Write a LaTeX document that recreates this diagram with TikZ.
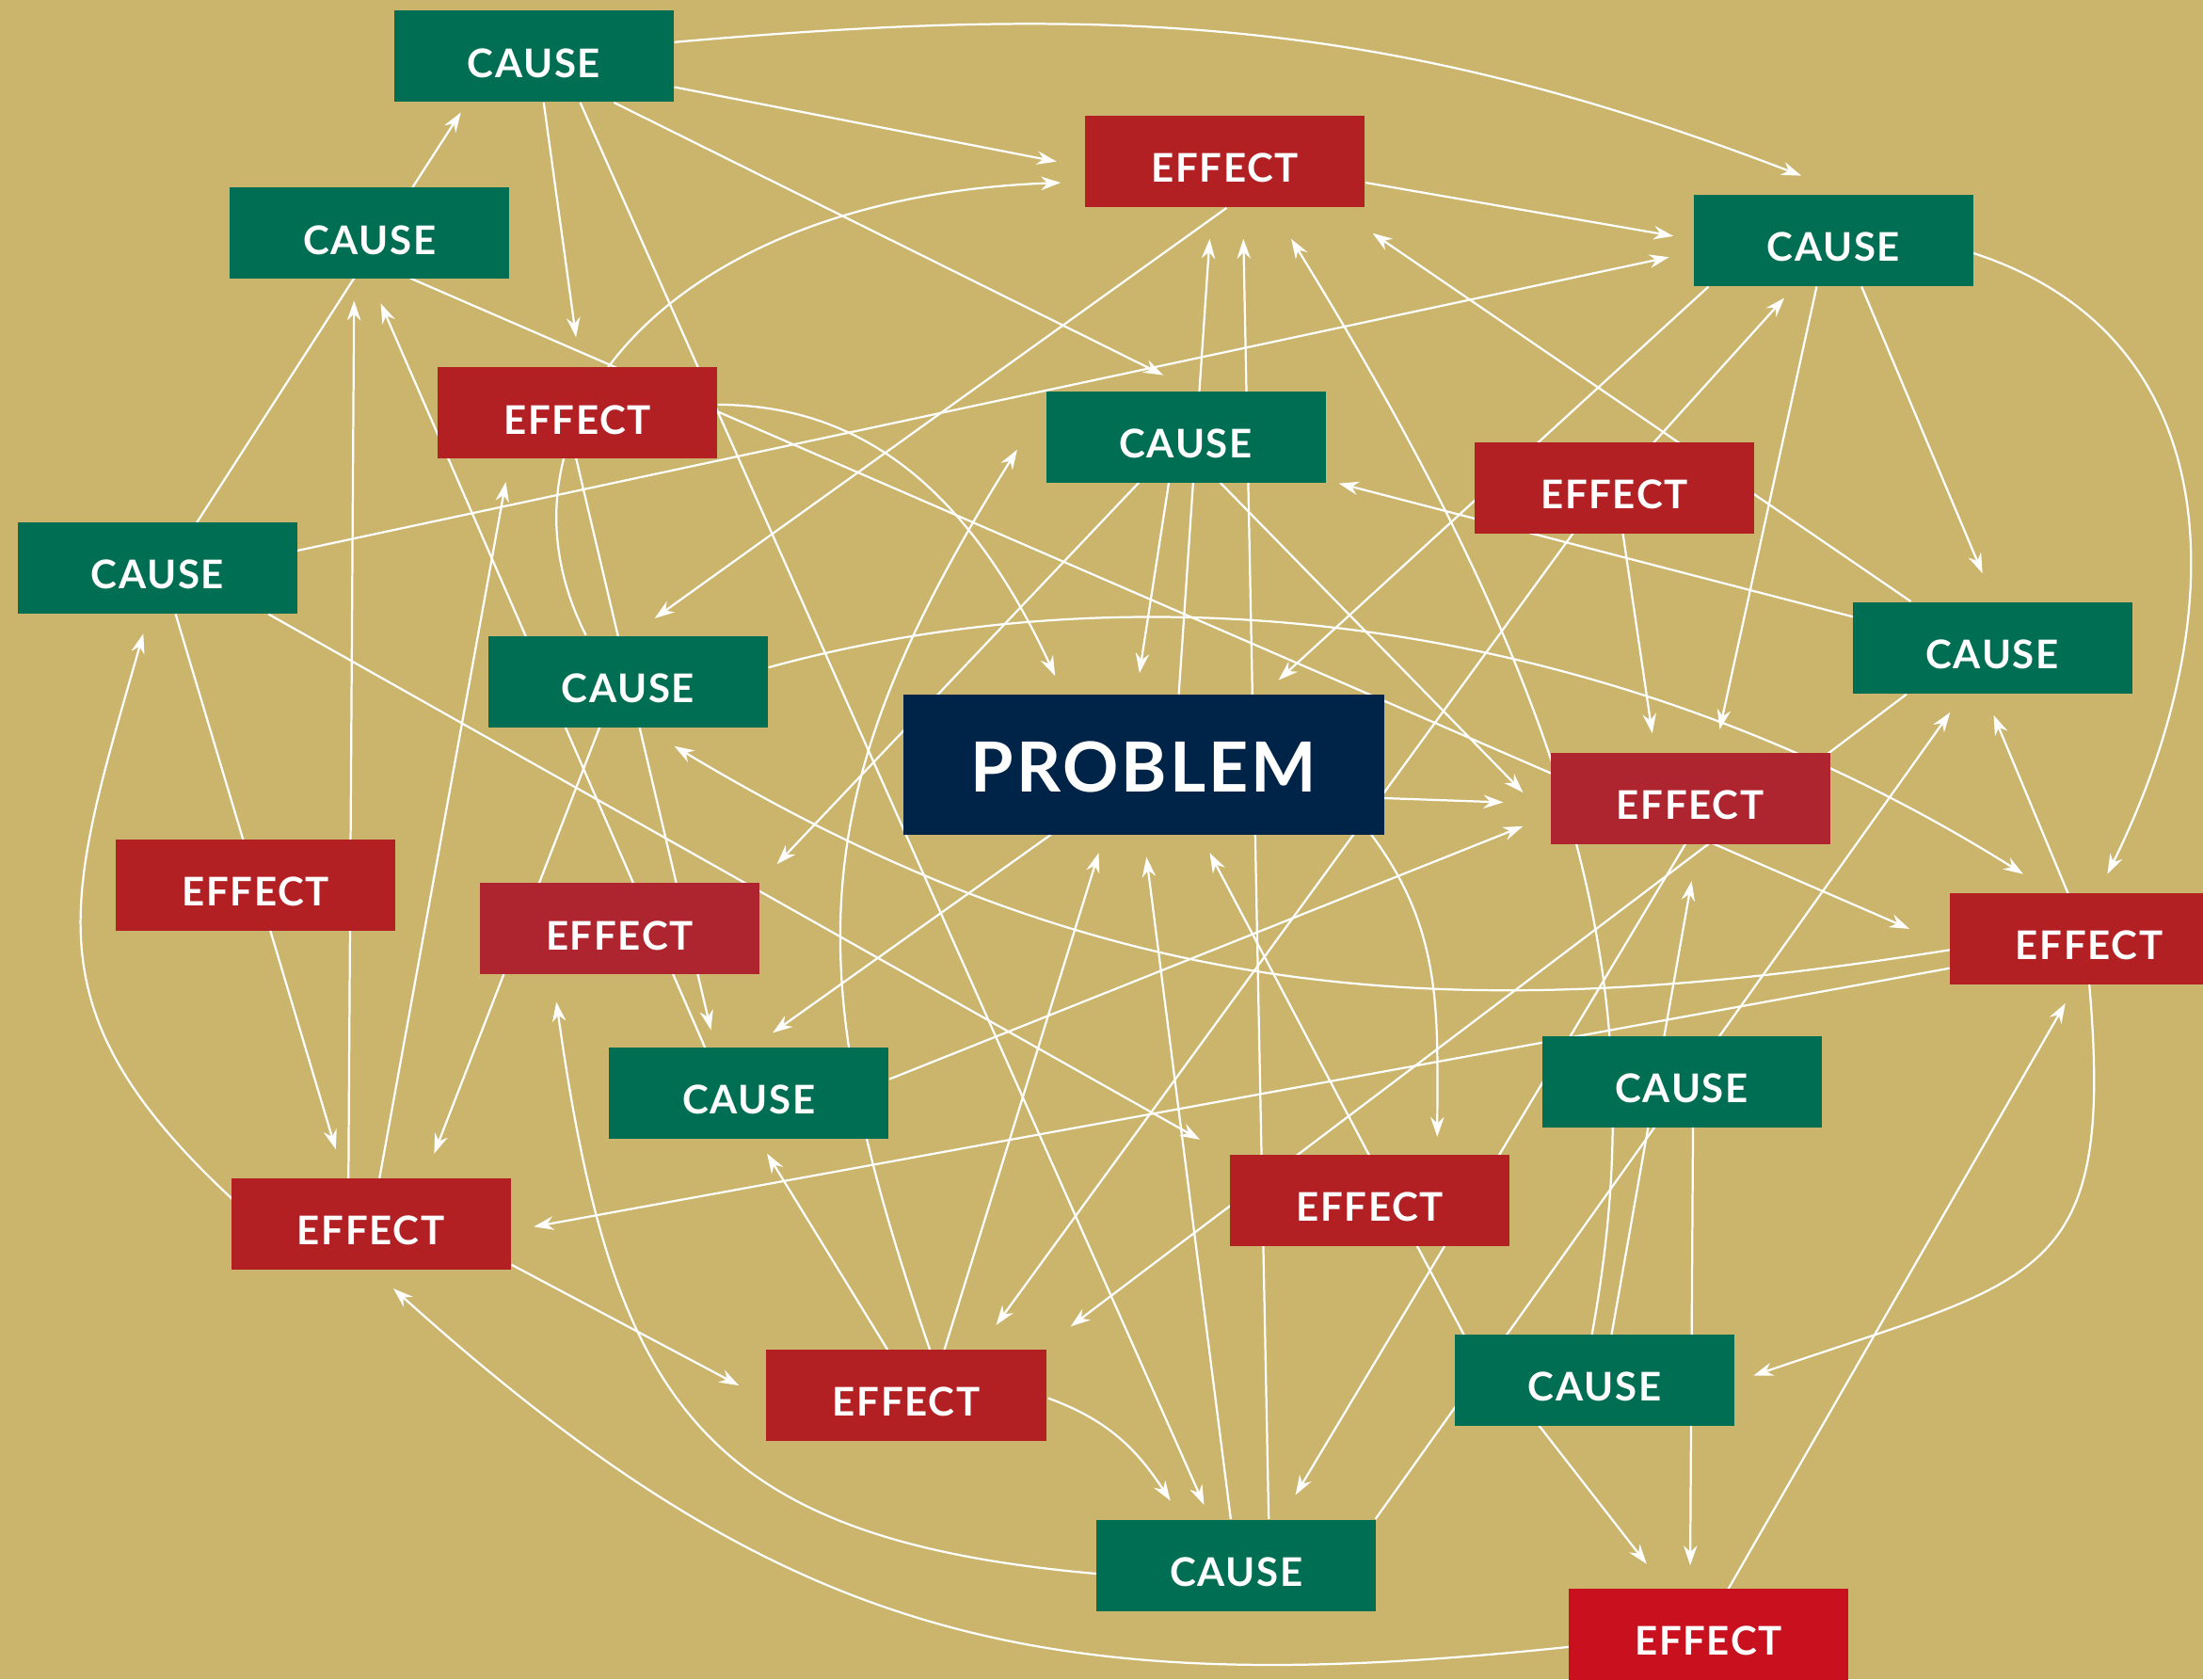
\documentclass[tikz,border=0pt]{standalone}
\usepackage{fontspec}
\newfontfamily\boxfont{Lato}[LetterSpace=4]
\usetikzlibrary{arrows.meta, calc}
\definecolor{gold}{HTML}{CBB46C}
\definecolor{causegreen}{HTML}{006E52}
\definecolor{effectred}{HTML}{B22024}
\definecolor{effectrose}{HTML}{AE2530}
\definecolor{effectbright}{HTML}{C9101F}
\definecolor{problemblue}{HTML}{002348}
\pgfdeclarelayer{ground}
\pgfdeclarelayer{links}
\pgfsetlayers{ground,links,main}
\tikzstyle{box} = [rectangle, minimum width=3.98cm, minimum height=1.3cm, inner sep=0pt, text height=17pt, text depth=0pt, text centered, text=white, font={\boxfont\bfseries\fontsize{16}{18}\selectfont}]
\tikzstyle{cause} = [box, fill=causegreen]
\tikzstyle{effect} = [box, fill=effectred]
\tikzstyle{problem} = [box, minimum width=6.84cm, minimum height=2cm, text height=22pt, fill=problemblue, font={\boxfont\bfseries\fontsize{28}{30}\selectfont}]
\tikzstyle{arrow} = [white, line width=0.85pt, -{Stealth[length=8pt, width=5.5pt]}]

\begin{document}
\begin{tikzpicture}[x=0.02cm, y=0.02cm]
    \begin{pgfonlayer}{ground}
        \fill [gold] (0,0) rectangle (1568,-1195);
    \end{pgfonlayer}
    \useasboundingbox (0,0) rectangle (1568,-1195);

    \node (cause1) [cause] at (380,-40) {CAUSE};
    \node (effect1) [effect] at (872,-115) {EFFECT};
    \node (cause2) [cause] at (263,-166) {CAUSE};
    \node (cause3) [cause] at (1305,-171) {CAUSE};
    \node (effect2) [effect] at (411,-294) {EFFECT};
    \node (cause4) [cause] at (844,-311) {CAUSE};
    \node (effect3) [effect] at (1149,-347) {EFFECT};
    \node (cause5) [cause] at (112,-404) {CAUSE};
    \node (cause6) [cause] at (447,-485) {CAUSE};
    \node (cause7) [cause] at (1418,-461) {CAUSE};
    \node (problem) [problem] at (814,-544) {PROBLEM};
    \node (effect4) [effect, fill=effectrose] at (1203,-568) {EFFECT};
    \node (effect5) [effect] at (182,-630) {EFFECT};
    \node (effect6) [effect, fill=effectrose] at (441,-661) {EFFECT};
    \node (effect7) [effect] at (1487,-668) {EFFECT};
    \node (cause8) [cause] at (533,-778) {CAUSE};
    \node (cause9) [cause] at (1197,-770) {CAUSE};
    \node (effect8) [effect] at (264,-871) {EFFECT};
    \node (effect9) [effect] at (975,-854) {EFFECT};
    \node (effect10) [effect] at (645,-993) {EFFECT};
    \node (cause10) [cause] at (1135,-982) {CAUSE};
    \node (cause11) [cause] at (880,-1114) {CAUSE};
    \node (effect11) [effect, fill=effectbright] at (1216,-1163) {EFFECT};

    % all links sit under the boxes
    \begin{pgfonlayer}{links}
    \draw [arrow] ($(cause1)+(100,-22)$) -- ($(effect1)+(-120,0)$);
    \draw [arrow] ($(cause1)+(100,10)$) to[out=5, in=159] ($(cause3)+(-23,46)$);
    \draw [arrow] ($(cause1)+(7,-33)$) -- ($(effect2)+(-1,54)$);
    \draw [arrow] ($(cause1)+(57,-33)$) -- ($(cause4)+(-16,44)$);
    \draw [arrow] ($(cause1)+(33,-33)$) -- ($(cause11)+(-23,43)$);
    \draw [arrow] ($(cause5)+(28,32)$) -- ($(cause1)+(-52,-40)$);
    \draw [arrow] ($(cause2)+(29,-32)$) -- ($(effect7)+(-128,7)$);
    \draw [arrow] ($(cause5)+(99,12)$) -- ($(cause3)+(-117,-12)$);
    \draw [arrow] ($(effect1)+(100,-15)$) -- ($(cause3)+(-114,3)$);
    \draw [arrow] ($(cause6)+(-30,33)$) .. controls (340,-300) and (480,-140) .. ($(effect1)+(-117,-15)$);
    \draw [arrow] ($(effect2)+(100,6)$) to[out=0, in=115] ($(problem)+(-63,63)$);
    \draw [arrow] ($(effect8)+(6,32)$) -- ($(effect2)+(-51,-49)$);
    \draw [arrow] ($(effect8)+(-16,32)$) -- ($(cause2)+(-11,-48)$);
    \draw [arrow] ($(cause5)+(13,-33)$) -- ($(effect8)+(-25,53)$);
    \draw [arrow] ($(cause6)+(-20,-32)$) -- ($(effect8)+(45,50)$);
    \draw [arrow] ($(cause8)+(-31,32)$) -- ($(cause2)+(8,-50)$);
    \draw [arrow] ($(effect1)+(1,-33)$) -- ($(cause6)+(19,45)$);
    \draw [arrow] ($(problem)+(25,50)$) -- ($(effect1)+(-11,-55)$);
    \draw [arrow] ($(cause11)+(23,33)$) -- ($(effect1)+(13,-55)$);
    \draw [arrow] ($(cause10)+(-2,32)$) .. controls (1175,-720) and (1135,-520) .. ($(effect1)+(47,-55)$);
    \draw [arrow] ($(cause7)+(-58,33)$) -- ($(effect1)+(105,-51)$);
    \draw [arrow] ($(cause4)+(-12,-32)$) -- ($(problem)+(-3,65)$);
    \draw [arrow] ($(cause4)+(-33,-32)$) -- ($(effect6)+(112,46)$);
    \draw [arrow] ($(cause4)+(24,-32)$) -- ($(effect4)+(-119,4)$);
    \draw [arrow] ($(cause3)+(-89,-33)$) -- ($(problem)+(96,60)$);
    \draw [arrow] ($(cause3)+(-12,-33)$) -- ($(effect4)+(21,49)$);
    \draw [arrow] ($(cause3)+(20,-33)$) -- ($(cause7)+(-7,53)$);
    \draw [arrow] ($(cause3)+(99,-9)$) .. controls (1590,-240) and (1590,-440) .. ($(effect7)+(13,46)$);
    \draw [arrow] ($(effect3)+(28,32)$) -- ($(cause3)+(-35,-41)$);
    \draw [arrow] ($(effect3)+(6,-32)$) -- ($(effect4)+(-27,46)$);
    \draw [arrow] ($(effect3)+(-29,-32)$) -- ($(effect10)+(64,50)$);
    \draw [arrow] ($(cause7)+(-99,22)$) -- ($(cause4)+(109,-33)$);
    \draw [arrow] ($(cause7)+(-61,-33)$) -- ($(effect10)+(117,49)$);
    \draw [arrow] ($(cause11)+(99,33)$) -- ($(cause7)+(-30,-46)$);
    \draw [arrow] ($(effect7)+(-15,32)$) -- ($(cause7)+(1,-48)$);
    \draw [arrow] ($(cause6)+(100,10)$) .. controls (820,-400) and (1150,-440) .. ($(effect7)+(-47,46)$);
    \draw [arrow] ($(effect7)+(-99,-8)$) to[out=189, in=-31] ($(cause6)+(33,-46)$);
    \draw [arrow] ($(effect7)+(-99,-21)$) -- ($(effect8)+(116,-2)$);
    \draw [arrow] ($(cause8)+(100,10)$) -- ($(effect4)+(-119,-20)$);
    \draw [arrow] ($(problem)+(171,-24)$) -- ($(effect4)+(-133,-3)$);
    \draw [arrow] ($(problem)+(162,-50)$) to[out=-53, in=90] ($(effect9)+(48,45)$);
    \draw [arrow] ($(effect10)+(27,32)$) -- ($(problem)+(-32,-63)$);
    \draw [arrow] ($(cause11)+(-4,33)$) -- ($(problem)+(2,-66)$);
    \draw [arrow] ($(cause10)+(-93,32)$) -- ($(problem)+(47,-63)$);
    \draw [arrow] ($(effect10)+(-13,32)$) -- ($(cause8)+(13,-43)$);
    \draw [arrow] ($(effect10)+(17,32)$) to[out=109, in=-122, looseness=1.15] ($(cause4)+(-120,-9)$);
    \draw [arrow] ($(effect8)+(100,-29)$) -- ($(effect10)+(-119,7)$);
    \draw [arrow] ($(effect8)+(-99,18)$) to[out=137, in=-106, looseness=1.25] ($(cause5)+(-10,-47)$);
    \draw [arrow] ($(cause11)+(-99,-6)$) to[out=175, in=-82, looseness=1.3] ($(effect6)+(-45,-52)$);
    \draw [arrow] ($(effect11)+(-99,-9)$) to[out=186, in=-42, looseness=1.1] ($(effect8)+(16,-46)$);
    \draw [arrow] ($(effect2)+(-1,-32)$) -- ($(cause8)+(-27,45)$);
    \draw [arrow] ($(problem)+(-66,-50)$) -- ($(cause8)+(17,43)$);
    \draw [arrow] ($(cause5)+(79,-33)$) -- ($(effect9)+(-121,43)$);
    \draw [arrow] ($(effect4)+(-3,-32)$) -- ($(cause11)+(42,50)$);
    \draw [arrow] ($(effect10)+(101,-2)$) to[out=-20, in=123] ($(cause11)+(-47,46)$);
    \draw [arrow] ($(cause10)+(-40,-32)$) -- ($(effect11)+(-44,50)$);
    \draw [arrow] ($(cause9)+(8,-32)$) -- ($(effect11)+(-13,49)$);
    \draw [arrow] ($(effect11)+(14,32)$) -- ($(effect7)+(-17,-46)$);
    \draw [arrow] ($(effect7)+(0,-32)$) to[out=-85, in=19, looseness=1.5] ($(cause10)+(113,3)$);
    \draw [arrow] ($(cause10)+(12,32)$) -- ($(effect4)+(1,-59)$);
    \end{pgfonlayer}
\end{tikzpicture}
\end{document}
